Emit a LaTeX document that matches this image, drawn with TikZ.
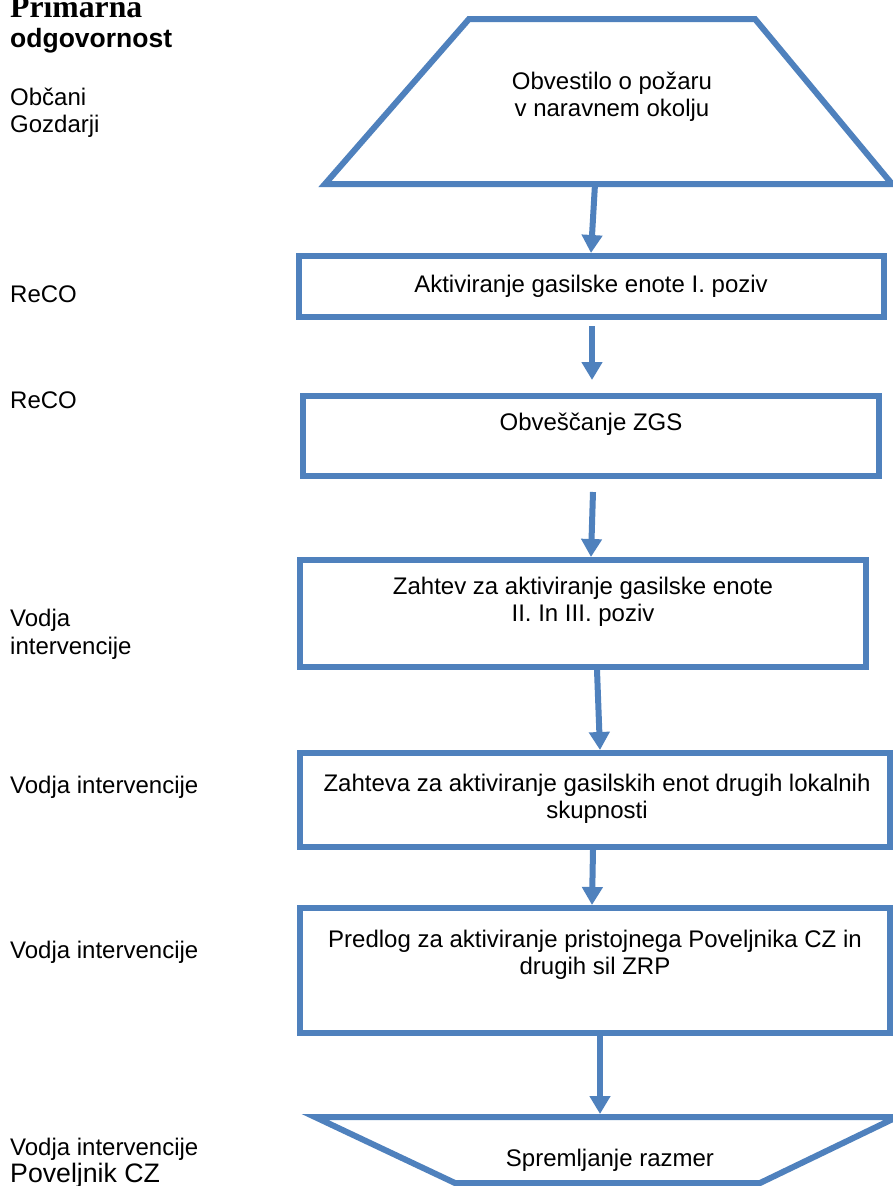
\documentclass[tikz,border=0pt]{standalone}
\usepackage{fontspec}
\setmainfont{Liberation Sans}
\newfontfamily\timesfont{Liberation Serif}
\usetikzlibrary{arrows.meta,calc}
\definecolor{flowblue}{HTML}{4F81BD}
\begin{document}
\begin{tikzpicture}[x=1pt,y=-1pt,
  boxshape/.style={draw=flowblue,line width=6pt,rectangle,inner sep=0pt},
  helper/.style={inner sep=0pt,outer sep=0pt},
  trapline/.style={draw=flowblue,line width=6pt,line join=miter},
  arr/.style={draw=flowblue,line width=6pt,-{Triangle[width=20pt,length=18pt]}},
  boxtext/.style={inner sep=0pt,align=center,font=\fontsize{24}{27}\selectfont},
  lefttext/.style={inner sep=0pt,anchor=base west,font=\fontsize{24}{27}\selectfont}]
\useasboundingbox (0,0) rectangle (893,1186);
\fill[white] (0,0) rectangle (893,1186);

% top trapezoid
\node[helper,minimum width=567,minimum height=165] (tr1) at (608.5,101.5) {};
\draw[trapline] (tr1.south west) -- (tr1.south east) -- ($(tr1.north east)+(-137,0)$) -- ($(tr1.north west)+(144,0)$) -- cycle;
\node[boxtext] (t0) at (612,96.5) {Obvestilo o požaru\\v naravnem okolju};

% boxes
\node[boxshape,minimum width=585,minimum height=61] (b1) at (591.5,286.5) {};
\node[boxtext] (t1) at (591,286) {Aktiviranje gasilske enote I. poziv};

\node[boxshape,minimum width=576,minimum height=80] (b2) at (591,436) {};
\node[boxtext] (t2) at (591,424) {Obveščanje ZGS};

\node[boxshape,minimum width=566,minimum height=107] (b3) at (583,613.5) {};
\node[boxtext] (t3) at (583,601.5) {Zahtev za aktiviranje gasilske enote\\II. In III. poziv};

\node[boxshape,minimum width=590,minimum height=94] (b4) at (595,800) {};
\node[boxtext] (t4) at (597,799) {Zahteva za aktiviranje gasilskih enot drugih lokalnih\\skupnosti};

\node[boxshape,minimum width=590,minimum height=125] (b5) at (595,970.5) {};
\node[boxtext] (t5) at (595,955) {Predlog za aktiviranje pristojnega Poveljnika CZ in\\drugih sil ZRP};

% bottom trapezoid
\node[helper,minimum width=582,minimum height=66] (tr2) at (606,1150) {};
\draw[trapline] (tr2.north west) -- (tr2.north east) -- ($(tr2.south east)+(-137,0)$) -- ($(tr2.south west)+(140,0)$) -- cycle;
\node[boxtext] (t6) at (610,1160) {Spremljanje razmer};

% arrows
\draw[arr] ($(tr1.south)+(-13.5,0)$) -- ($(b1.north)+(-0.5,0)$);
\draw[arr] ($(b1.south)+(0.5,6)$) -- ($(b2.north)+(1,-13)$);
\draw[arr] ($(b2.south)+(2,13)$) -- ($(b3.north)+(8,0)$);
\draw[arr] ($(b3.south)+(14,0)$) -- ($(b4.north)+(5,0)$);
\draw[arr] ($(b4.south)+(-2,0)$) -- ($(b5.north)+(-3,0)$);
\draw[arr] ($(b5.south)+(5,0)$) -- ($(tr2.north)+(-6,-3)$);

% left column
\node[inner sep=0pt,anchor=base west,font=\timesfont\bfseries\fontsize{31.7}{34}\selectfont] (h1) at (10,17) {Primarna};
\node[inner sep=0pt,anchor=base west,font=\bfseries\fontsize{26.5}{30}\selectfont] (h2) at (10,47) {odgovornost};
\node[lefttext] (l1) at (10,105) {Občani};
\node[lefttext] (l2) at (10,132) {Gozdarji};
\node[lefttext] (l3) at (10,302) {ReCO};
\node[lefttext] (l4) at (10,408.5) {ReCO};
\node[lefttext] (l5) at (10,626) {Vodja};
\node[lefttext] (l6) at (10,654) {intervencije};
\node[lefttext] (l7) at (10,793) {Vodja intervencije};
\node[lefttext] (l8) at (10,958) {Vodja intervencije};
\node[lefttext] (l9) at (10,1155) {Vodja intervencije};
\node[inner sep=0pt,anchor=base west,font=\fontsize{26.7}{30}\selectfont] (l10) at (10,1182) {Poveljnik CZ};
\end{tikzpicture}
\end{document}
